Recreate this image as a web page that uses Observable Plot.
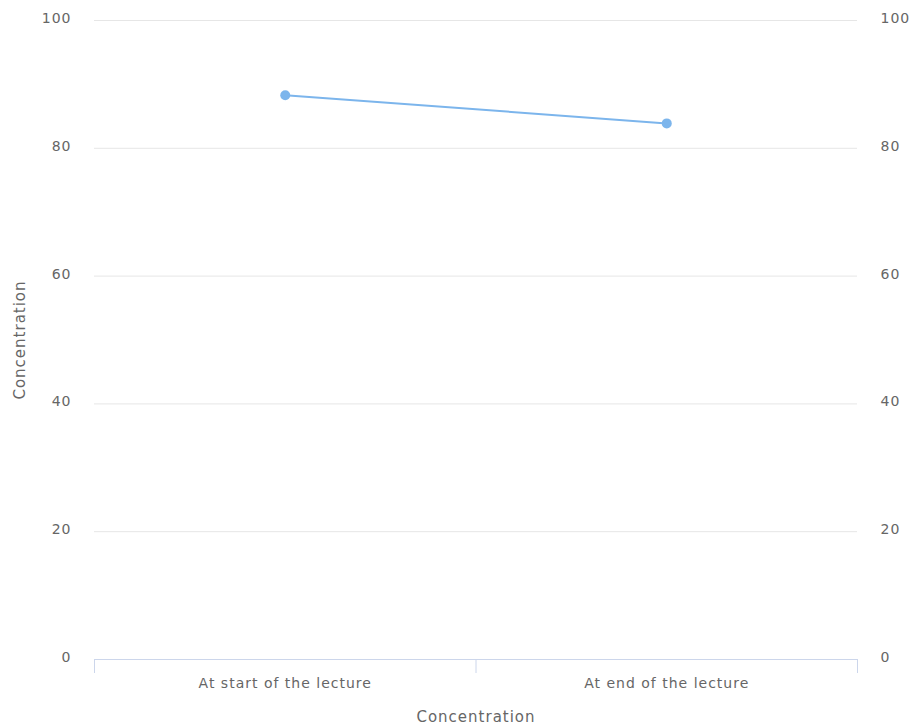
<!DOCTYPE html>
<html>
<head>
<meta charset="utf-8">
<script src="https://cdn.jsdelivr.net/npm/d3@7"></script>
<script src="https://cdn.jsdelivr.net/npm/@observablehq/plot@0.6"></script>
<style>
  html, body { margin: 0; padding: 0; background: #fff; }
  #chart { width: 920px; height: 728px; }
  #chart svg text { letter-spacing: 1px; }
</style>
</head>
<body>
<div id="chart"></div>
<script>
const categories = ["At start of the lecture", "At end of the lecture"];
const values = [88.3, 83.9];
const yTicks = [0, 20, 40, 60, 80, 100];
const seriesName = "Concentration";
const xTitle = "Concentration";
const yTitle = "Concentration";

const data = categories.map((c, i) => ({ cat: c, pos: i + 0.5, value: values[i] }));
const bounds = d3.range(categories.length + 1);

const font = "DejaVu Sans, Verdana, sans-serif";

const chart = Plot.plot({
  width: 920,
  height: 728,
  marginLeft: 94,
  marginRight: 63,
  marginTop: 20,
  marginBottom: 69,
  style: { fontFamily: font, fontSize: "14px", color: "#666", background: "#fff" },
  x: { type: "linear", domain: [0, categories.length] },
  y: { domain: [0, 100] },
  marks: [
    Plot.gridY(yTicks.filter(t => t > 0), { stroke: "#e6e6e6", strokeOpacity: 1 }),
    Plot.axisY(yTicks, { anchor: "left", tickSize: 0, tickPadding: 23, dy: -2, label: null, fill: "#666" }),
    Plot.axisY(yTicks, { anchor: "right", tickSize: 0, tickPadding: 23, dy: -2, label: null, fill: "#666" }),
    Plot.ruleY([0], { stroke: "#ccd6eb", strokeWidth: 1, strokeOpacity: 1 }),
    Plot.axisX(bounds, { tickSize: 14, tickPadding: 0, stroke: "#ccd6eb", strokeOpacity: 1, tickFormat: () => "", label: null }),
    Plot.axisX(data.map(d => d.pos), { tickSize: 0, tickPadding: 19, tickFormat: (d, i) => categories[i], label: null, fill: "#666" }),
    Plot.text([xTitle], { frameAnchor: "bottom", dy: 62, text: d => d, fill: "#666", fontSize: 15 }),
    Plot.text([yTitle], { frameAnchor: "left", dx: -74, rotate: -90, textAnchor: "middle", text: d => d, fill: "#666", fontSize: 15 }),
    Plot.line(data, { x: "pos", y: "value", stroke: "#7cb5ec", strokeWidth: 2 }),
    Plot.dot(data, { x: "pos", y: "value", r: 5, fill: "#7cb5ec", stroke: "none" })
  ]
});
document.getElementById("chart").appendChild(chart);
</script>
</body>
</html>
